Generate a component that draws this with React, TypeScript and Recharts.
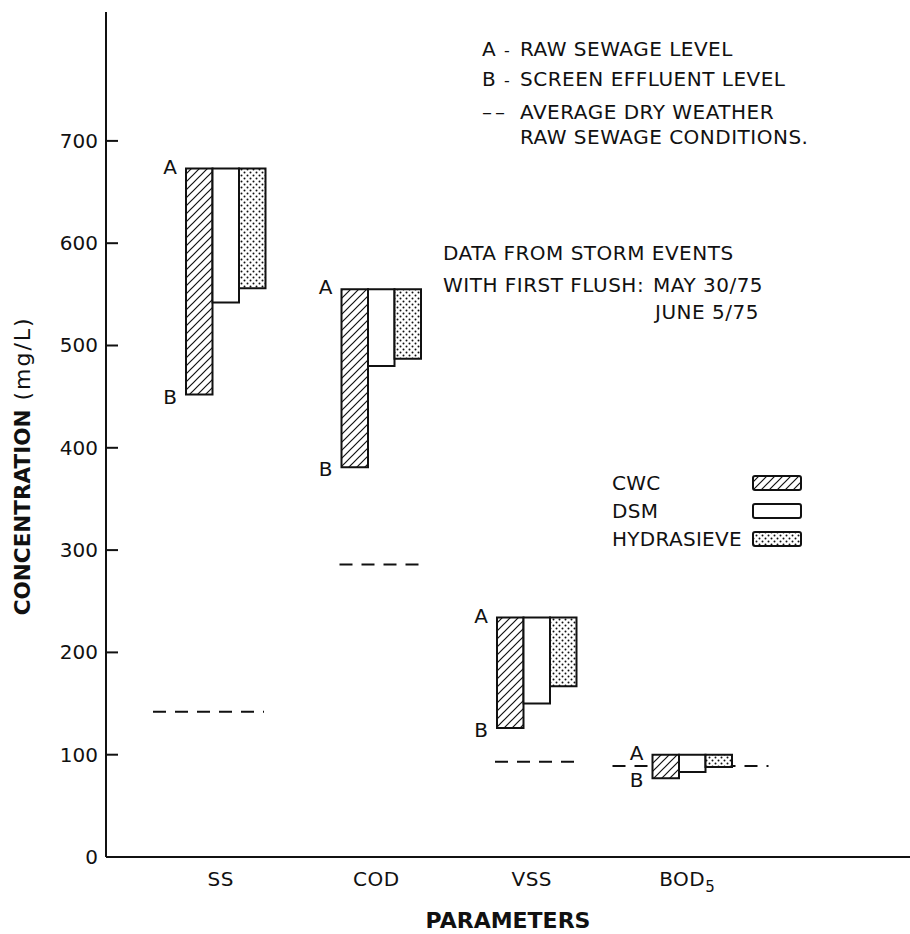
import { BarChart, Bar, XAxis, YAxis, Legend, LabelList } from "recharts"

const parameters = ["SS", "COD", "VSS", "BOD5"]
// A - raw sewage level (same for all three screens)
const rawSewage = [673, 555, 234, 100]
// B - screen effluent level
const cwcEffluent = [452, 381, 126, 77]
const dsmEffluent = [542, 480, 150, 83]
const hydrasieveEffluent = [556, 487, 167, 88]
// average dry weather raw sewage
const dryWeather = [142, 286, 93, 89]
const yTicks = [0, 100, 200, 300, 400, 500, 600, 700]

const data = parameters.map((param, i) => ({
  param,
  cwc: [cwcEffluent[i], rawSewage[i]],
  dsm: [dsmEffluent[i], rawSewage[i]],
  hydrasieve: [hydrasieveEffluent[i], rawSewage[i]],
  dry: dryWeather[i],
}))

const FONT = "DejaVu Sans"
const INK = "#111"
const fills: Record<string, string> = {
  CWC: "url(#hatch)",
  DSM: "#fff",
  HYDRASIEVE: "url(#dots)",
}

// how far each dashed line runs past its bar group (left, right), px
const dashReach: Record<string, [number, number]> = {
  SS: [33, -2],
  COD: [2, 2],
  VSS: [2, -3],
  BOD5: [40, 36],
}

function DryLine(props: any) {
  const { x, y, width } = props
  const param = props.payload?.param ?? props.param
  const [l, r] = dashReach[param] ?? [0, 0]
  return (
    <line x1={x - l} x2={x + width + r} y1={y} y2={y} stroke={INK} strokeWidth={2} strokeDasharray="13 9" />
  )
}

function LevelMarks(props: any) {
  const { x, y, height } = props
  const top = Math.min(y, y + height)
  const bottom = Math.max(y, y + height)
  return (
    <g fontFamily={FONT} fontSize={20} fill={INK} textAnchor="middle">
      <text x={x - 16} y={top + 5}>A</text>
      <text x={x - 16} y={bottom + 9}>B</text>
    </g>
  )
}

function YTick({ x, y, payload }: any) {
  return (
    <g>
      <line x1={x} x2={x + 12} y1={y} y2={y} stroke={INK} strokeWidth={2} />
      <text x={x - 8} y={y + 7} textAnchor="end" fontFamily={FONT} fontSize={20} fill={INK}>
        {payload.value}
      </text>
    </g>
  )
}

function XTick({ x, y, payload }: any) {
  const m = /^(.*?)(\d)$/.exec(String(payload.value))
  return (
    <text x={x - 5} y={y + 29} textAnchor="middle" fontFamily={FONT} fontSize={20} fill={INK} letterSpacing={0.5}>
      {m ? (
        <>
          {m[1]}
          <tspan dy={6} fontSize={15}>{m[2]}</tspan>
        </>
      ) : (
        payload.value
      )}
    </text>
  )
}

function YTitle({ viewBox }: any) {
  const cx = 22
  const cy = viewBox.y + viewBox.height * 0.537
  return (
    <text
      transform={`translate(${cx},${cy}) rotate(-90)`}
      textAnchor="middle"
      dominantBaseline="central"
      fontFamily={FONT}
      fill={INK}
    >
      <tspan fontWeight="bold" fontSize={21.5}>CONCENTRATION</tspan>
      <tspan fontSize={22} letterSpacing={2}> (mg/L)</tspan>
    </text>
  )
}

function XTitle({ viewBox }: any) {
  return (
    <text
      x={viewBox.x + viewBox.width / 2}
      y={viewBox.y + 71}
      textAnchor="middle"
      fontFamily={FONT}
      fontWeight="bold"
      fontSize={22}
      fill={INK}
    >
      PARAMETERS
    </text>
  )
}

function SeriesLegend({ payload }: any) {
  const items = (payload || []).filter((p: any) => p.type !== "none")
  return (
    <div style={{ fontFamily: FONT, fontSize: 20, color: INK, letterSpacing: 0.3 }}>
      {items.map((entry: any) => (
        <div key={entry.value} style={{ display: "flex", alignItems: "center", height: 28 }}>
          <span style={{ width: 140 }}>{entry.value}</span>
          <svg width={50} height={16}>
            <rect x={1} y={1} width={48} height={14} rx={2} fill={fills[entry.value]} stroke={INK} strokeWidth={2} />
          </svg>
        </div>
      ))}
    </div>
  )
}

export default function App() {
  return (
    <div style={{ position: "absolute", left: 0, top: 0, width: 910, height: 934, background: "#fff" }}>
      <BarChart
        width={910}
        height={934}
        data={data}
        barGap={0}
        margin={{ top: 12, right: 0, bottom: 0, left: 0 }}
      >
        <defs>
          <pattern id="hatch" width={8} height={8} patternUnits="userSpaceOnUse">
            <rect width={8} height={8} fill="#fff" />
            <path d="M-2,2 L2,-2 M0,8 L8,0 M6,10 L10,6" stroke={INK} strokeWidth={1.2} />
          </pattern>
          <pattern id="dots" width={6} height={6} patternUnits="userSpaceOnUse">
            <rect width={6} height={6} fill="#fff" />
            <circle cx={1.5} cy={1.5} r={1} fill={INK} />
            <circle cx={4.5} cy={4.5} r={1} fill={INK} />
          </pattern>
        </defs>
        <XAxis
          dataKey="param"
          height={77}
          padding={{ left: 42, right: 140 }}
          interval={0}
          tickLine={false}
          tickSize={0}
          tickMargin={0}
          tick={<XTick />}
          axisLine={{ stroke: INK, strokeWidth: 2 }}
          label={<XTitle />}
        />
        <XAxis xAxisId="dry" dataKey="param" hide padding={{ left: 42, right: 140 }} />
        <YAxis
          type="number"
          width={106}
          domain={[0, 826]}
          allowDataOverflow
          ticks={yTicks}
          interval={0}
          tickLine={false}
          tickSize={0}
          tickMargin={0}
          tick={<YTick />}
          axisLine={{ stroke: INK, strokeWidth: 2 }}
          label={<YTitle />}
        />
        <Legend
          layout="vertical"
          align="center"
          verticalAlign="middle"
          content={<SeriesLegend />}
          wrapperStyle={{ left: 612, top: 469, width: 200 }}
        />
        <Bar
          xAxisId="dry"
          dataKey="dry"
          name="dry weather"
          legendType="none"
          barSize={80}
          shape={<DryLine />}
          isAnimationActive={false}
        />
        <Bar dataKey="cwc" name="CWC" fill={fills.CWC} stroke={INK} strokeWidth={2} barSize={26.5} isAnimationActive={false}>
          <LabelList dataKey="cwc" content={<LevelMarks />} />
        </Bar>
        <Bar dataKey="dsm" name="DSM" fill={fills.DSM} stroke={INK} strokeWidth={2} barSize={26.5} isAnimationActive={false} />
        <Bar
          dataKey="hydrasieve"
          name="HYDRASIEVE"
          fill={fills.HYDRASIEVE}
          stroke={INK}
          strokeWidth={2}
          barSize={26.5}
          isAnimationActive={false}
        />
      </BarChart>
      <svg
        width={910}
        height={934}
        style={{ position: "absolute", left: 0, top: 0, pointerEvents: "none" }}
        fontFamily={FONT}
        fontSize={20}
        fill={INK}
        letterSpacing={0.5}
      >
        <text y={56}>
          <tspan x={482}>A</tspan>
          <tspan x={504} fontSize={16}>-</tspan>
          <tspan x={520}>RAW SEWAGE LEVEL</tspan>
        </text>
        <text y={86}>
          <tspan x={482}>B</tspan>
          <tspan x={504} fontSize={16}>-</tspan>
          <tspan x={520}>SCREEN EFFLUENT LEVEL</tspan>
        </text>
        <text y={119}>
          <tspan x={482} letterSpacing={3}>––</tspan>
          <tspan x={520}>AVERAGE DRY WEATHER</tspan>
        </text>
        <text x={520} y={144}>RAW SEWAGE CONDITIONS.</text>
        <text x={443} y={260}>DATA FROM STORM EVENTS</text>
        <text y={292}>
          <tspan x={443}>WITH FIRST FLUSH:</tspan>
          <tspan x={653}>MAY 30/75</tspan>
        </text>
        <text x={655} y={319}>JUNE 5/75</text>
      </svg>
    </div>
  )
}
